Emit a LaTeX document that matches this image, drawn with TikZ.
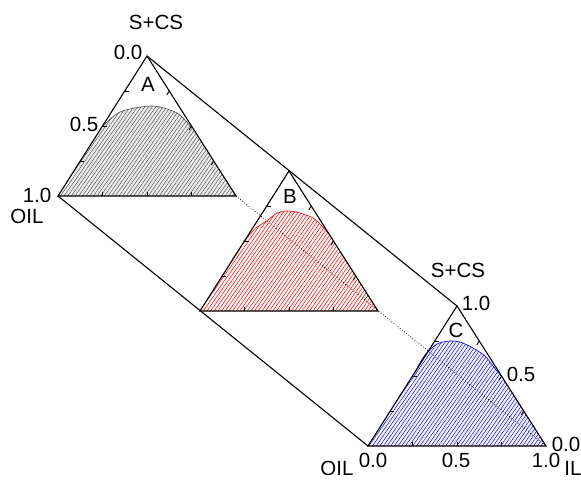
\documentclass[tikz,border=0pt]{standalone}
\usepackage{fontspec}
\setmainfont{Liberation Sans}
\usetikzlibrary{patterns.meta,calc}
\begin{document}
\begin{tikzpicture}[x=1pt,y=-1pt,
  edge/.style={line width=1.1pt,line join=miter},
  link/.style={line width=1.1pt},
  guide/.style={line width=0.7pt,dotted},
  lab/.style={inner sep=0pt,font=\fontsize{20.5}{20.5}\selectfont},
  tick/.style={line width=0.9pt},
  hatchA/.style={pattern={Lines[angle=55,distance=3pt,line width=0.45pt]},pattern color=black!70},
  hatchB/.style={pattern={Lines[angle=55,distance=3pt,line width=0.45pt]},pattern color=red!85!black},
  hatchC/.style={pattern={Lines[angle=55,distance=3pt,line width=0.45pt]},pattern color=blue!75!black}]
\useasboundingbox (0,0) rectangle (581,481);
% vertices
\coordinate (Aa) at (147,56);  \coordinate (Al) at (58,196);  \coordinate (Ar) at (236,196);
\coordinate (Ba) at (289,171); \coordinate (Bl) at (200,311); \coordinate (Br) at (378,311);
\coordinate (Ca) at (457,306); \coordinate (Cl) at (368,446); \coordinate (Cr) at (546,446);
% region outlines
\def\curveA{(101,128) (120,112) (152,106) (177,113) (192,128)}
\def\curveB{(243,242) (256,228) (268,220) (277,213) (287,211) (300,213) (313,218) (322,226) (328,233)}
\def\curveC{(415,372) (425,355) (437,344) (450,341) (460,342) (473,348) (485,356) (493,366) (502,377)}
% hatched regions
\fill[black!8] (Al) -- plot[smooth] coordinates {\curveA} -- (Ar) -- cycle;
\fill[hatchA] (Al) -- plot[smooth] coordinates {\curveA} -- (Ar) -- cycle;
\draw[black!70,line width=0.6pt] plot[smooth] coordinates {\curveA};
\fill[red!5] (Bl) -- plot[smooth] coordinates {\curveB} -- (Br) -- cycle;
\fill[hatchB] (Bl) -- plot[smooth] coordinates {\curveB} -- (Br) -- cycle;
\draw[red,line width=0.6pt] plot[smooth] coordinates {\curveB};
\fill[blue!6] (Cl) -- plot[smooth] coordinates {\curveC} -- (Cr) -- cycle;
\fill[hatchC] (Cl) -- plot[smooth] coordinates {\curveC} -- (Cr) -- cycle;
\draw[blue,line width=0.6pt] plot[smooth] coordinates {\curveC};
% connectors
\draw[link] (Aa) -- (Ca);
\draw[link] (Al) -- (Cl);
\draw[guide] (Ar) -- (Cr);
% triangles and ticks
\foreach \T in {A,B,C}{
  \draw[edge] (\T a) -- (\T l) -- (\T r) -- cycle;
  \foreach \t in {0.25,0.5,0.75}{
    \draw[tick] ($(\T l)!\t!(\T r)$) -- ++(0,-4);
    \draw[tick] ($(\T l)!\t!(\T a)$) -- ++(4,0);
    \draw[tick] ($(\T a)!\t!(\T r)$) -- ++(-2.5,4);
  }
}
% labels
\node[lab] (tA) at (156,22) {S+CS};
\node[lab] (a0) at (128,52) {0.0};
\node[lab] (nA) at (148,84) {A};
\node[lab] (a5) at (84,124) {0.5};
\node[lab] (a1) at (37,195) {1.0};
\node[lab] (oA) at (27,216) {OIL};
\node[lab] (nB) at (290,196) {B};
\node[lab] (tC) at (458,270) {S+CS};
\node[lab] (c1) at (476,303) {1.0};
\node[lab] (nC) at (456,330) {C};
\node[lab] (c5) at (521,374) {0.5};
\node[lab] (c0) at (566,444) {0.0};
\node[lab] (b0) at (373,460) {0.0};
\node[lab] (b5) at (456,460) {0.5};
\node[lab] (b1) at (546,460) {1.0};
\node[lab] (oC) at (337,468) {OIL};
\node[lab] (iC) at (573,468) {IL};
\end{tikzpicture}
\end{document}
